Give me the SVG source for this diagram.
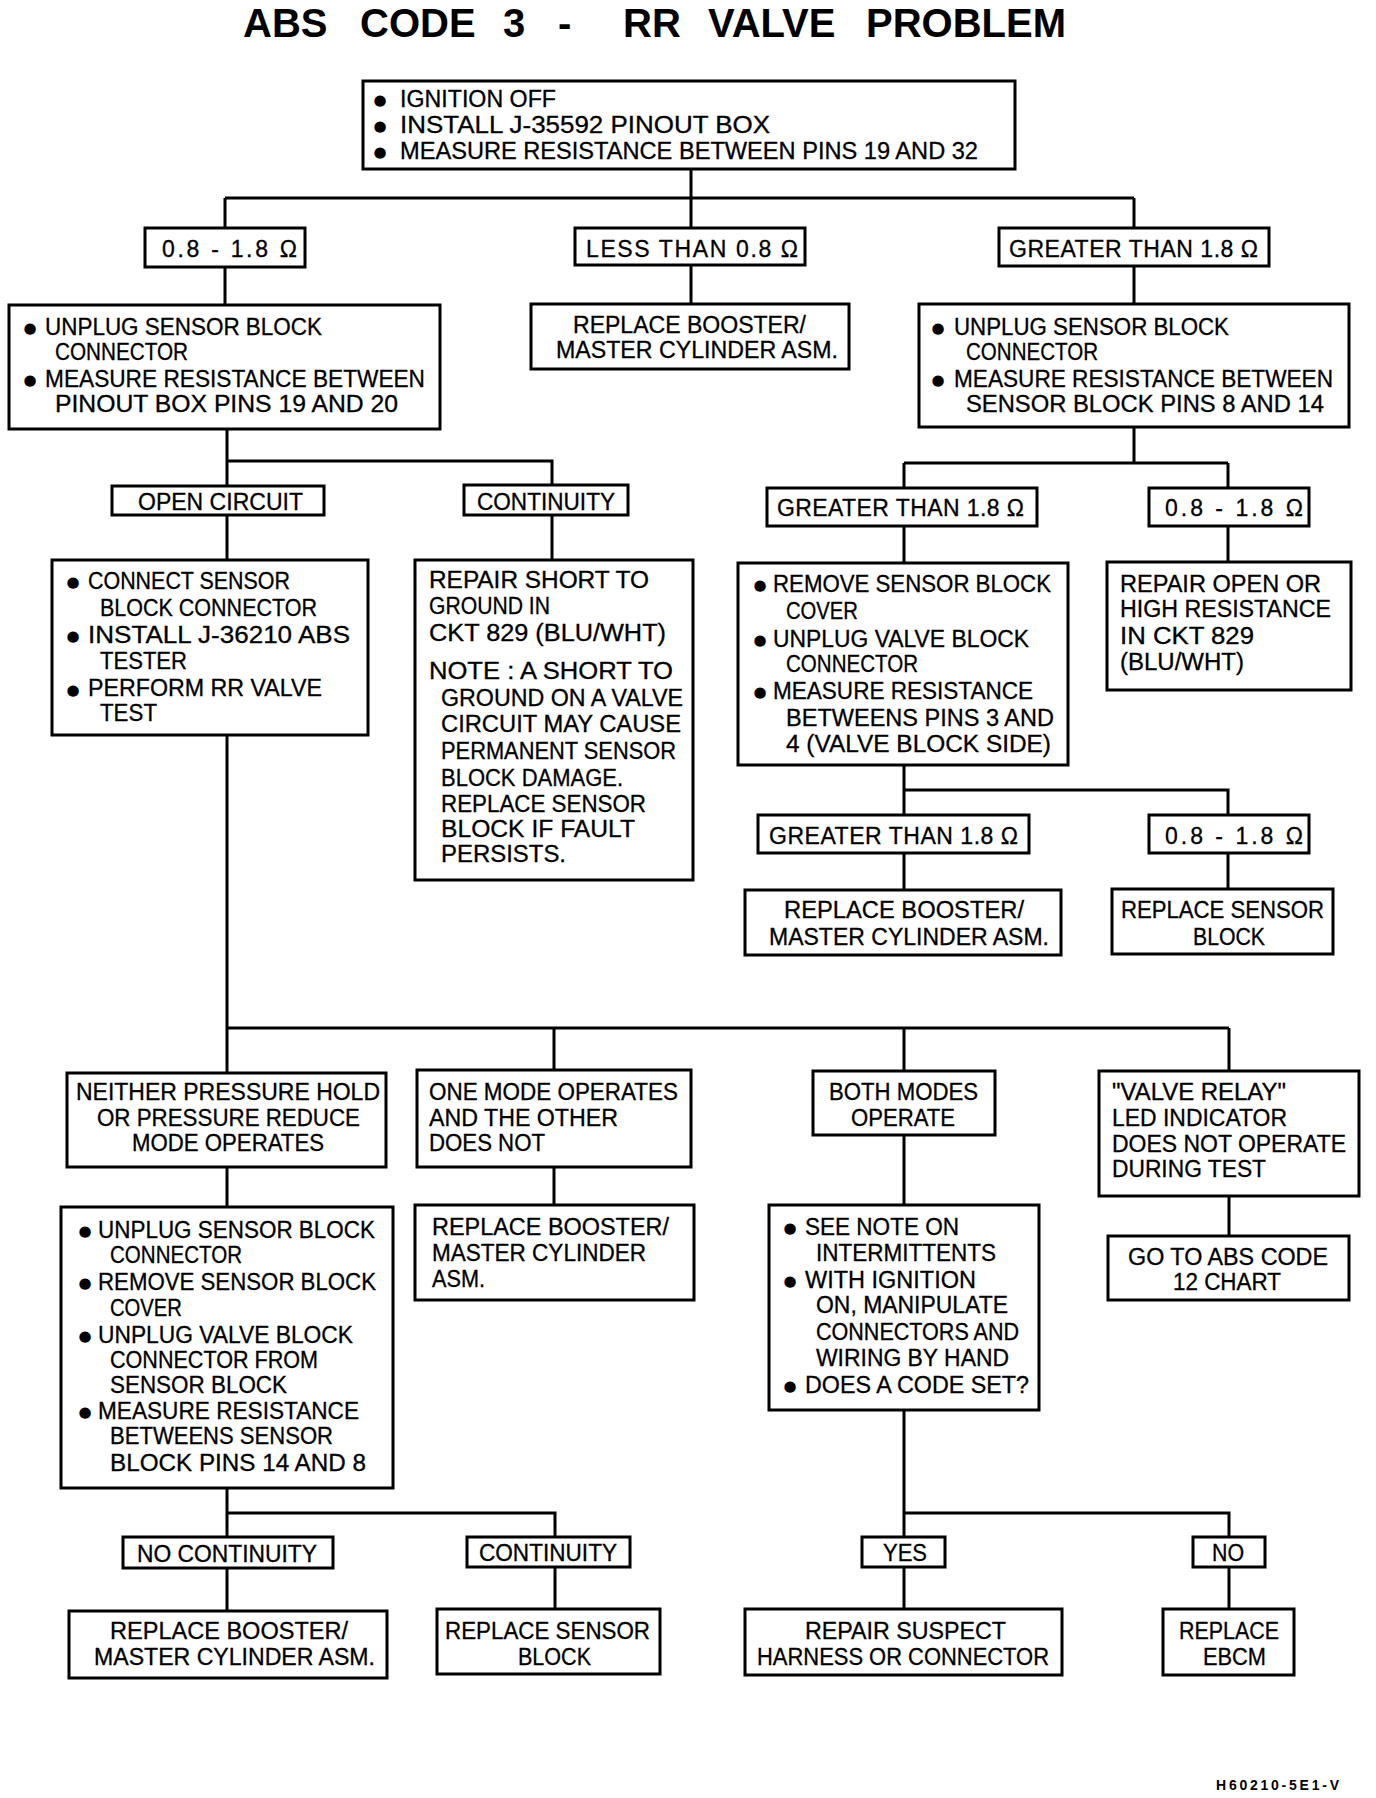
<svg xmlns="http://www.w3.org/2000/svg" width="1376" height="1798" viewBox="0 0 1376 1798">
<style>
rect.box{fill:#fff;stroke:#000;stroke-width:3}
.c path{fill:none;stroke:#000;stroke-width:3}
text{font-family:"Liberation Sans",Arial,sans-serif;fill:#000}
.t{font-size:23px;stroke:#000;stroke-width:0.3}
.b{font-family:"DejaVu Sans",sans-serif;font-size:15px;text-anchor:middle}
.ttl{font-size:40px;font-weight:bold}
.ft{font-size:14px;font-weight:bold}
</style>
<rect width="1376" height="1798" fill="#fff"/>
<text class="ttl" y="37"><tspan x="243">ABS </tspan><tspan x="360">CODE </tspan><tspan x="503">3 </tspan><tspan x="558">- </tspan><tspan x="623">RR </tspan><tspan x="708">VALVE </tspan><tspan x="866">PROBLEM</tspan></text>

<g class="c" id="connectors">
<path d="M691,169V198M225,198H1134M225,198V228M691,198V228M1134,198V228M225,267V305M691,265V304M1134,266V304"/>
<path d="M227,429V486M227,461H552V485M227,515V560M552,515V560"/>
<path d="M1134,427V463M904,463H1228M904,463V488M1228,463V488M904,526V563M1228,526V562"/>
<path d="M904,765V815M904,790H1228V815M904,853V890M1228,853V889"/>
<path d="M227,735V1073M227,1028H1229M554,1028V1070M904,1028V1071M1229,1028V1071"/>
<path d="M227,1167V1207M554,1167V1205M904,1135V1205M1229,1196V1236"/>
<path d="M227,1488V1537M227,1513H555V1537M227,1568V1611M555,1567V1609"/>
<path d="M904,1410V1537M904,1513H1229V1537M904,1567V1609M1229,1567V1609"/>
</g>

<g id="n_start">
<rect class="box" x="363" y="81" width="652" height="88"/>
<text class="b" x="380" y="105">●</text><text class="b" x="380" y="131">●</text><text class="b" x="380" y="157">●</text>
<text class="t" x="400" y="107" textLength="156" lengthAdjust="spacingAndGlyphs">IGNITION OFF</text>
<text class="t" x="400" y="133" textLength="370" lengthAdjust="spacingAndGlyphs">INSTALL J-35592 PINOUT BOX</text>
<text class="t" x="400" y="159" textLength="578" lengthAdjust="spacingAndGlyphs">MEASURE RESISTANCE BETWEEN PINS 19 AND 32</text>
</g>

<g id="l_a1"><rect class="box" x="145" y="228" width="160" height="39"/><text class="t" x="162" y="257" textLength="135" lengthAdjust="spacing">0.8 - 1.8 Ω</text></g>
<g id="l_a2"><rect class="box" x="575" y="228" width="230" height="37"/><text class="t" x="586" y="257" textLength="212" lengthAdjust="spacing">LESS THAN 0.8 Ω</text></g>
<g id="l_a3"><rect class="box" x="999" y="228" width="270" height="38"/><text class="t" x="1009" y="257" textLength="249" lengthAdjust="spacing">GREATER THAN 1.8 Ω</text></g>

<g id="n_left1">
<rect class="box" x="9" y="305" width="431" height="124"/>
<text class="b" x="30" y="333">●</text><text class="b" x="30" y="385">●</text>
<text class="t" x="45" y="335" textLength="277" lengthAdjust="spacingAndGlyphs">UNPLUG SENSOR BLOCK</text>
<text class="t" x="55" y="360" textLength="133" lengthAdjust="spacingAndGlyphs">CONNECTOR</text>
<text class="t" x="45" y="387" textLength="380" lengthAdjust="spacingAndGlyphs">MEASURE RESISTANCE BETWEEN</text>
<text class="t" x="55" y="412" textLength="343" lengthAdjust="spacingAndGlyphs">PINOUT BOX PINS 19 AND 20</text>
</g>

<g id="n_mid1">
<rect class="box" x="531" y="304" width="318" height="65"/>
<text class="t" x="573" y="333" textLength="233" lengthAdjust="spacingAndGlyphs">REPLACE BOOSTER/</text>
<text class="t" x="556" y="358" textLength="282" lengthAdjust="spacingAndGlyphs">MASTER CYLINDER ASM.</text>
</g>

<g id="n_right1">
<rect class="box" x="919" y="304" width="430" height="123"/>
<text class="b" x="938" y="333">●</text><text class="b" x="938" y="385">●</text>
<text class="t" x="954" y="335" textLength="275" lengthAdjust="spacingAndGlyphs">UNPLUG SENSOR BLOCK</text>
<text class="t" x="966" y="360" textLength="132" lengthAdjust="spacingAndGlyphs">CONNECTOR</text>
<text class="t" x="954" y="387" textLength="379" lengthAdjust="spacingAndGlyphs">MEASURE RESISTANCE BETWEEN</text>
<text class="t" x="966" y="412" textLength="358" lengthAdjust="spacingAndGlyphs">SENSOR BLOCK PINS 8 AND 14</text>
</g>

<g id="l_b1"><rect class="box" x="112" y="486" width="212" height="29"/><text class="t" x="138" y="510" textLength="165" lengthAdjust="spacing">OPEN CIRCUIT</text></g>
<g id="l_b2"><rect class="box" x="464" y="485" width="164" height="30"/><text class="t" x="477" y="510" textLength="138" lengthAdjust="spacingAndGlyphs">CONTINUITY</text></g>
<g id="l_b3"><rect class="box" x="767" y="488" width="270" height="38"/><text class="t" x="777" y="516" textLength="247" lengthAdjust="spacing">GREATER THAN 1.8 Ω</text></g>
<g id="l_b4"><rect class="box" x="1149" y="488" width="160" height="38"/><text class="t" x="1165" y="516" textLength="138" lengthAdjust="spacing">0.8 - 1.8 Ω</text></g>

<g id="n_connect">
<rect class="box" x="52" y="560" width="316" height="175"/>
<text class="b" x="73" y="587">●</text><text class="b" x="73" y="641">●</text><text class="b" x="73" y="695">●</text>
<text class="t" x="88" y="589" textLength="202" lengthAdjust="spacingAndGlyphs">CONNECT SENSOR</text>
<text class="t" x="100" y="616" textLength="217" lengthAdjust="spacingAndGlyphs">BLOCK CONNECTOR</text>
<text class="t" x="88" y="643" textLength="262" lengthAdjust="spacingAndGlyphs">INSTALL J-36210 ABS</text>
<text class="t" x="100" y="669" textLength="87" lengthAdjust="spacingAndGlyphs">TESTER</text>
<text class="t" x="88" y="696" textLength="234" lengthAdjust="spacingAndGlyphs">PERFORM RR VALVE</text>
<text class="t" x="100" y="721" textLength="57" lengthAdjust="spacingAndGlyphs">TEST</text>
</g>

<g id="n_short">
<rect class="box" x="415" y="560" width="278" height="320"/>
<text class="t" x="429" y="588" textLength="220" lengthAdjust="spacingAndGlyphs">REPAIR SHORT TO</text>
<text class="t" x="429" y="614" textLength="121" lengthAdjust="spacingAndGlyphs">GROUND IN</text>
<text class="t" x="429" y="641" textLength="237" lengthAdjust="spacingAndGlyphs">CKT 829 (BLU/WHT)</text>
<text class="t" x="429" y="679" textLength="244" lengthAdjust="spacingAndGlyphs">NOTE : A SHORT TO</text>
<text class="t" x="441" y="706" textLength="242" lengthAdjust="spacingAndGlyphs">GROUND ON A VALVE</text>
<text class="t" x="441" y="732" textLength="240" lengthAdjust="spacingAndGlyphs">CIRCUIT MAY CAUSE</text>
<text class="t" x="441" y="759" textLength="235" lengthAdjust="spacingAndGlyphs">PERMANENT SENSOR</text>
<text class="t" x="441" y="786" textLength="182" lengthAdjust="spacingAndGlyphs">BLOCK DAMAGE.</text>
<text class="t" x="441" y="812" textLength="205" lengthAdjust="spacingAndGlyphs">REPLACE SENSOR</text>
<text class="t" x="441" y="837" textLength="194" lengthAdjust="spacingAndGlyphs">BLOCK IF FAULT</text>
<text class="t" x="441" y="862" textLength="125" lengthAdjust="spacingAndGlyphs">PERSISTS.</text>
</g>

<g id="n_remove">
<rect class="box" x="738" y="563" width="330" height="202"/>
<text class="b" x="760" y="590">●</text><text class="b" x="760" y="645">●</text><text class="b" x="760" y="697">●</text>
<text class="t" x="773" y="592" textLength="278" lengthAdjust="spacingAndGlyphs">REMOVE SENSOR BLOCK</text>
<text class="t" x="786" y="619" textLength="72" lengthAdjust="spacingAndGlyphs">COVER</text>
<text class="t" x="773" y="647" textLength="256" lengthAdjust="spacingAndGlyphs">UNPLUG VALVE BLOCK</text>
<text class="t" x="786" y="672" textLength="132" lengthAdjust="spacingAndGlyphs">CONNECTOR</text>
<text class="t" x="773" y="699" textLength="260" lengthAdjust="spacingAndGlyphs">MEASURE RESISTANCE</text>
<text class="t" x="786" y="726" textLength="268" lengthAdjust="spacingAndGlyphs">BETWEENS PINS 3 AND</text>
<text class="t" x="786" y="752" textLength="265" lengthAdjust="spacingAndGlyphs">4 (VALVE BLOCK SIDE)</text>
</g>

<g id="n_open">
<rect class="box" x="1107" y="562" width="244" height="128"/>
<text class="t" x="1120" y="592" textLength="201" lengthAdjust="spacingAndGlyphs">REPAIR OPEN OR</text>
<text class="t" x="1120" y="617" textLength="211" lengthAdjust="spacingAndGlyphs">HIGH RESISTANCE</text>
<text class="t" x="1120" y="644" textLength="134" lengthAdjust="spacingAndGlyphs">IN CKT 829</text>
<text class="t" x="1120" y="670" textLength="124" lengthAdjust="spacingAndGlyphs">(BLU/WHT)</text>
</g>

<g id="l_c1"><rect class="box" x="758" y="815" width="271" height="38"/><text class="t" x="769" y="844" textLength="249" lengthAdjust="spacing">GREATER THAN 1.8 Ω</text></g>
<g id="l_c2"><rect class="box" x="1149" y="815" width="160" height="38"/><text class="t" x="1165" y="844" textLength="138" lengthAdjust="spacing">0.8 - 1.8 Ω</text></g>

<g id="n_booster2">
<rect class="box" x="745" y="890" width="316" height="65"/>
<text class="t" x="784" y="918" textLength="240" lengthAdjust="spacingAndGlyphs">REPLACE BOOSTER/</text>
<text class="t" x="769" y="945" textLength="280" lengthAdjust="spacingAndGlyphs">MASTER CYLINDER ASM.</text>
</g>

<g id="n_sensor1">
<rect class="box" x="1112" y="889" width="221" height="65"/>
<text class="t" x="1121" y="918" textLength="203" lengthAdjust="spacingAndGlyphs">REPLACE SENSOR</text>
<text class="t" x="1193" y="945" textLength="72" lengthAdjust="spacingAndGlyphs">BLOCK</text>
</g>

<g id="n_neither">
<rect class="box" x="67" y="1073" width="319" height="94"/>
<text class="t" x="76" y="1100" textLength="304" lengthAdjust="spacingAndGlyphs">NEITHER PRESSURE HOLD</text>
<text class="t" x="97" y="1126" textLength="263" lengthAdjust="spacingAndGlyphs">OR PRESSURE REDUCE</text>
<text class="t" x="132" y="1151" textLength="192" lengthAdjust="spacingAndGlyphs">MODE OPERATES</text>
</g>

<g id="n_onemode">
<rect class="box" x="417" y="1070" width="274" height="97"/>
<text class="t" x="429" y="1100" textLength="249" lengthAdjust="spacingAndGlyphs">ONE MODE OPERATES</text>
<text class="t" x="429" y="1126" textLength="189" lengthAdjust="spacingAndGlyphs">AND THE OTHER</text>
<text class="t" x="429" y="1151" textLength="116" lengthAdjust="spacingAndGlyphs">DOES NOT</text>
</g>

<g id="n_both">
<rect class="box" x="813" y="1071" width="182" height="64"/>
<text class="t" x="829" y="1100" textLength="149" lengthAdjust="spacingAndGlyphs">BOTH MODES</text>
<text class="t" x="851" y="1126" textLength="104" lengthAdjust="spacingAndGlyphs">OPERATE</text>
</g>

<g id="n_relay">
<rect class="box" x="1099" y="1071" width="260" height="125"/>
<text class="t" x="1112" y="1100" textLength="174" lengthAdjust="spacingAndGlyphs">"VALVE RELAY"</text>
<text class="t" x="1112" y="1126" textLength="175" lengthAdjust="spacingAndGlyphs">LED INDICATOR</text>
<text class="t" x="1112" y="1152" textLength="234" lengthAdjust="spacingAndGlyphs">DOES NOT OPERATE</text>
<text class="t" x="1112" y="1177" textLength="154" lengthAdjust="spacingAndGlyphs">DURING TEST</text>
</g>

<g id="n_unplug2">
<rect class="box" x="61" y="1207" width="332" height="281"/>
<text class="b" x="85" y="1236">●</text><text class="b" x="85" y="1288">●</text><text class="b" x="85" y="1341">●</text><text class="b" x="85" y="1417">●</text>
<text class="t" x="98" y="1238" textLength="277" lengthAdjust="spacingAndGlyphs">UNPLUG SENSOR BLOCK</text>
<text class="t" x="110" y="1263" textLength="132" lengthAdjust="spacingAndGlyphs">CONNECTOR</text>
<text class="t" x="98" y="1290" textLength="278" lengthAdjust="spacingAndGlyphs">REMOVE SENSOR BLOCK</text>
<text class="t" x="110" y="1316" textLength="72" lengthAdjust="spacingAndGlyphs">COVER</text>
<text class="t" x="98" y="1343" textLength="255" lengthAdjust="spacingAndGlyphs">UNPLUG VALVE BLOCK</text>
<text class="t" x="110" y="1368" textLength="208" lengthAdjust="spacingAndGlyphs">CONNECTOR FROM</text>
<text class="t" x="110" y="1393" textLength="177" lengthAdjust="spacingAndGlyphs">SENSOR BLOCK</text>
<text class="t" x="98" y="1419" textLength="261" lengthAdjust="spacingAndGlyphs">MEASURE RESISTANCE</text>
<text class="t" x="110" y="1444" textLength="223" lengthAdjust="spacingAndGlyphs">BETWEENS SENSOR</text>
<text class="t" x="110" y="1471" textLength="256" lengthAdjust="spacingAndGlyphs">BLOCK PINS 14 AND 8</text>
</g>

<g id="n_booster3">
<rect class="box" x="415" y="1205" width="279" height="95"/>
<text class="t" x="432" y="1235" textLength="237" lengthAdjust="spacingAndGlyphs">REPLACE BOOSTER/</text>
<text class="t" x="432" y="1261" textLength="214" lengthAdjust="spacingAndGlyphs">MASTER CYLINDER</text>
<text class="t" x="432" y="1287" textLength="53" lengthAdjust="spacingAndGlyphs">ASM.</text>
</g>

<g id="n_seenote">
<rect class="box" x="769" y="1205" width="270" height="205"/>
<text class="b" x="790" y="1233">●</text><text class="b" x="790" y="1286">●</text><text class="b" x="790" y="1391">●</text>
<text class="t" x="805" y="1235" textLength="154" lengthAdjust="spacingAndGlyphs">SEE NOTE ON</text>
<text class="t" x="816" y="1261" textLength="180" lengthAdjust="spacingAndGlyphs">INTERMITTENTS</text>
<text class="t" x="805" y="1288" textLength="171" lengthAdjust="spacingAndGlyphs">WITH IGNITION</text>
<text class="t" x="816" y="1313" textLength="192" lengthAdjust="spacingAndGlyphs">ON, MANIPULATE</text>
<text class="t" x="816" y="1340" textLength="203" lengthAdjust="spacingAndGlyphs">CONNECTORS AND</text>
<text class="t" x="816" y="1366" textLength="193" lengthAdjust="spacingAndGlyphs">WIRING BY HAND</text>
<text class="t" x="805" y="1393" textLength="224" lengthAdjust="spacingAndGlyphs">DOES A CODE SET?</text>
</g>

<g id="n_goto">
<rect class="box" x="1108" y="1236" width="241" height="64"/>
<text class="t" x="1128" y="1265" textLength="200" lengthAdjust="spacingAndGlyphs">GO TO ABS CODE</text>
<text class="t" x="1173" y="1290" textLength="108" lengthAdjust="spacingAndGlyphs">12 CHART</text>
</g>

<g id="l_d1"><rect class="box" x="123" y="1537" width="210" height="31"/><text class="t" x="137" y="1562" textLength="180" lengthAdjust="spacingAndGlyphs">NO CONTINUITY</text></g>
<g id="l_d2"><rect class="box" x="467" y="1537" width="163" height="30"/><text class="t" x="479" y="1561" textLength="138" lengthAdjust="spacingAndGlyphs">CONTINUITY</text></g>
<g id="l_d3"><rect class="box" x="862" y="1537" width="83" height="30"/><text class="t" x="883" y="1561" textLength="44" lengthAdjust="spacingAndGlyphs">YES</text></g>
<g id="l_d4"><rect class="box" x="1193" y="1537" width="72" height="30"/><text class="t" x="1212" y="1561" textLength="32" lengthAdjust="spacingAndGlyphs">NO</text></g>

<g id="n_booster4">
<rect class="box" x="69" y="1611" width="318" height="67"/>
<text class="t" x="110" y="1639" textLength="238" lengthAdjust="spacingAndGlyphs">REPLACE BOOSTER/</text>
<text class="t" x="94" y="1665" textLength="281" lengthAdjust="spacingAndGlyphs">MASTER CYLINDER ASM.</text>
</g>

<g id="n_sensor2">
<rect class="box" x="437" y="1609" width="223" height="65"/>
<text class="t" x="445" y="1639" textLength="205" lengthAdjust="spacingAndGlyphs">REPLACE SENSOR</text>
<text class="t" x="518" y="1665" textLength="73" lengthAdjust="spacingAndGlyphs">BLOCK</text>
</g>

<g id="n_harness">
<rect class="box" x="745" y="1609" width="317" height="66"/>
<text class="t" x="805" y="1639" textLength="201" lengthAdjust="spacingAndGlyphs">REPAIR SUSPECT</text>
<text class="t" x="757" y="1665" textLength="292" lengthAdjust="spacingAndGlyphs">HARNESS OR CONNECTOR</text>
</g>

<g id="n_ebcm">
<rect class="box" x="1163" y="1609" width="131" height="66"/>
<text class="t" x="1179" y="1639" textLength="100" lengthAdjust="spacingAndGlyphs">REPLACE</text>
<text class="t" x="1203" y="1665" textLength="63" lengthAdjust="spacingAndGlyphs">EBCM</text>
</g>

<text class="ft" x="1216" y="1790" textLength="123" lengthAdjust="spacing">H60210-5E1-V</text>
</svg>
